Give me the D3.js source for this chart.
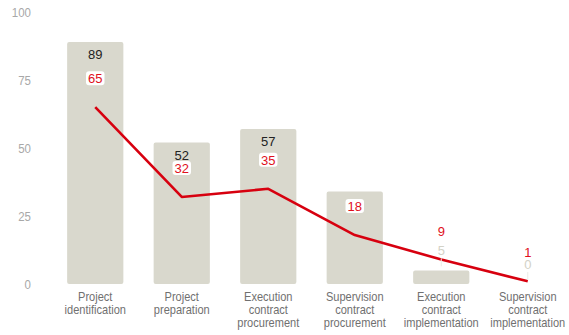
<!DOCTYPE html>
<html>
<head>
<meta charset="utf-8">
<script src="https://cdn.jsdelivr.net/npm/d3@7"></script>
<style>
  html, body { margin: 0; padding: 0; background: #fff; }
  svg { display: block; font-family: "Liberation Sans", Arial, sans-serif; }
</style>
</head>
<body>
<svg id="chart" width="569" height="335"></svg>
<script>
// Stage names (split into display lines) and the two measures per stage
const categories = [
  ["Project", "identification"],
  ["Project", "preparation"],
  ["Execution", "contract", "procurement"],
  ["Supervision", "contract", "procurement"],
  ["Execution", "contract", "implementation"],
  ["Supervision", "contract", "implementation"]
];
const barValues = [89, 52, 57, 34, 5, 0];
const lineValues = [65, 32, 35, 18, 9, 1];
const yTicks = [0, 25, 50, 75, 100];

const NARROW = 0.85; // horizontal squeeze for the condensed axis lettering

const svg = d3.select("#chart");

const x = d3.scaleBand()
  .domain(d3.range(categories.length))
  .range([52, 571])
  .paddingInner(0.35)
  .paddingOuter(0.175);

const y = d3.scaleLinear().domain([0, 100]).range([284, 12]);
const cx = i => x(i) + x.bandwidth() / 2;

// y axis labels (no line, no ticks)
const yAxis = d3.axisLeft(y).tickValues(yTicks).tickSize(0).tickPadding(0);
const gy = svg.append("g").attr("transform", "translate(31,0)").call(yAxis);
gy.select(".domain").remove();
gy.selectAll("text")
  .attr("fill", "#a8a8a8")
  .attr("transform", `scale(${NARROW},1)`)
  .style("font-size", "13.5px")
  .style("font-family", "inherit");

// bars
svg.append("g").selectAll("rect")
  .data(barValues)
  .join("rect")
  .attr("x", (d, i) => x(i))
  .attr("width", x.bandwidth())
  .attr("y", d => y(d))
  .attr("height", d => y(0) - y(d))
  .attr("rx", 2)
  .attr("fill", "#d9d8cd");

// category labels below bars
const cat = svg.append("g").selectAll("text")
  .data(categories)
  .join("text")
  .attr("text-anchor", "middle")
  .attr("fill", "#707070")
  .attr("transform", (d, i) => `translate(${cx(i)},0) scale(${NARROW},1)`)
  .style("font-size", "13px");
cat.each(function (lines) {
  d3.select(this).selectAll("tspan")
    .data(lines)
    .join("tspan")
    .attr("x", 0)
    .attr("y", (l, j) => 301 + j * 13)
    .text(l => l);
});

const isInside = v => y(0) - y(v) > 30;

// bar value labels inside the top of tall bars
svg.append("g").selectAll("text")
  .data(barValues.map((v, i) => ({ v, i })).filter(d => isInside(d.v)))
  .join("text")
  .attr("x", d => cx(d.i))
  .attr("y", d => y(d.v) + 17)
  .attr("text-anchor", "middle")
  .attr("fill", "#222")
  .style("font-size", "13px")
  .text(d => d.v);

// red line
const line = d3.line()
  .x((d, i) => cx(i))
  .y(d => y(d));
svg.append("path")
  .datum(lineValues)
  .attr("d", line)
  .attr("fill", "none")
  .attr("stroke", "#d7000f")
  .attr("stroke-width", 2.6)
  .attr("stroke-linejoin", "round");

// red line value labels on white boxes
const lineLbl = svg.append("g");
lineValues.forEach((v, i) => {
  const cy = y(v) - 28.5;
  const g = lineLbl.append("g");
  const t = g.append("text")
    .attr("x", cx(i))
    .attr("y", cy + 4.5)
    .attr("text-anchor", "middle")
    .attr("fill", "#e0101c")
    .style("font-size", "13px")
    .text(v);
  const bb = t.node().getBBox();
  g.insert("rect", "text")
    .attr("x", bb.x - 2)
    .attr("y", cy - 7.5)
    .attr("width", bb.width + 4)
    .attr("height", 14)
    .attr("rx", 3)
    .attr("fill", "#fff");
});

// short bars: pale value label above the bar with a thin leader
const outside = svg.append("g");
barValues.forEach((v, i) => {
  if (isInside(v)) return;
  outside.append("line")
    .attr("x1", cx(i)).attr("x2", cx(i))
    .attr("y1", y(v) - 12).attr("y2", y(v) - 4)
    .attr("stroke", "#ecece6").attr("stroke-width", 1);
  outside.append("text")
    .attr("x", cx(i))
    .attr("y", y(v) - 15.5)
    .attr("text-anchor", "middle")
    .attr("fill", "#d3d2c7")
    .style("font-size", "13px")
    .text(v);
});
</script>
</body>
</html>
